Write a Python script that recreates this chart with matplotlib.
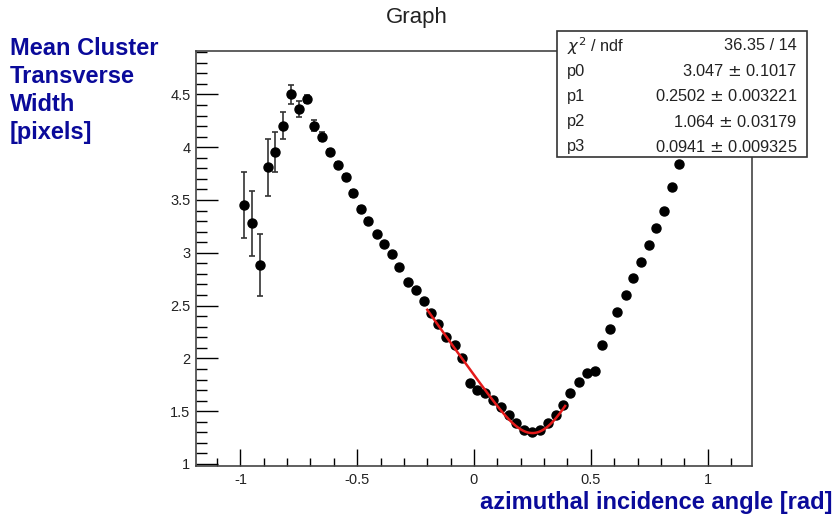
import math
import numpy as np
import matplotlib
matplotlib.use('Agg')
import matplotlib.pyplot as plt
from matplotlib.patches import Rectangle

plt.rcParams['font.family'] = ['Liberation Sans', 'DejaVu Sans']

# --- data ---
angle = [-0.983, -0.950, -0.916, -0.882, -0.852, -0.817, -0.783, -0.750, -0.716, -0.686,
         -0.652, -0.617, -0.583, -0.550, -0.519, -0.485, -0.452, -0.416, -0.384, -0.353,
         -0.319, -0.284, -0.250, -0.216, -0.183, -0.152, -0.118, -0.083, -0.050, -0.016,
         0.013, 0.047, 0.081, 0.117, 0.148, 0.180, 0.214, 0.247, 0.282, 0.316,
         0.350, 0.379, 0.413, 0.449, 0.482, 0.516, 0.548, 0.582, 0.613, 0.649,
         0.682, 0.713, 0.748, 0.779, 0.813, 0.848, 0.879]
width = [3.453, 3.279, 2.884, 3.810, 3.955, 4.204, 4.500, 4.360, 4.456, 4.204,
         4.100, 3.955, 3.830, 3.720, 3.563, 3.415, 3.300, 3.175, 3.080, 2.989,
         2.868, 2.726, 2.648, 2.541, 2.427, 2.325, 2.203, 2.127, 2.001, 1.770,
         1.700, 1.675, 1.606, 1.537, 1.464, 1.391, 1.322, 1.303, 1.322, 1.385,
         1.464, 1.559, 1.669, 1.774, 1.865, 1.884, 2.127, 2.278, 2.436, 2.603,
         2.758, 2.916, 3.071, 3.238, 3.393, 3.623, 3.838]
width_err = [0.31, 0.31, 0.29, 0.27, 0.19, 0.13, 0.09, 0.077, 0.036, 0.05,
             0.04, 0.03, 0.03, 0.03, 0.03, 0.03, 0.03, 0.02, 0.02, 0.02,
             0.02, 0.02, 0.02, 0.02, 0.02, 0.02, 0.02, 0.02, 0.02, 0.02,
             0.02, 0.02, 0.02, 0.02, 0.02, 0.02, 0.02, 0.02, 0.02, 0.02,
             0.02, 0.02, 0.02, 0.02, 0.02, 0.02, 0.02, 0.02, 0.02, 0.02,
             0.02, 0.02, 0.02, 0.02, 0.02, 0.02, 0.02]

# fit result (stats box)
p0, p1, p2, p3 = 3.047, 0.2502, 1.064, 0.0941
stat_names = ['$\\chi^{2}$ / ndf', 'p0', 'p1', 'p2', 'p3']
stat_values = ['36.35 / 14', '3.047 $\\pm$ 0.1017', '0.2502 $\\pm$ 0.003221',
               '1.064 $\\pm$ 0.03179', '0.0941 $\\pm$ 0.009325']
fit_range = (-0.2, 0.39)


def fitfunc(x):
    # p2 + p0 * <|tan(x) - tan(p1)|> smeared with gaussian of width p3
    mu = np.tan(x) - np.tan(p1)
    erf = np.vectorize(math.erf)(mu / (p3 * np.sqrt(2)))
    return p2 + p0 * (p3 * np.sqrt(2 / np.pi) * np.exp(-mu**2 / (2 * p3**2)) + mu * erf)


W, H = 835, 519
fig = plt.figure(figsize=(W / 100, H / 100), dpi=100)
ax = fig.add_axes([196 / W, 1 - 466 / H, (752 - 196) / W, (466 - 51) / H])

ax.errorbar(angle, width, yerr=width_err, fmt='o', color='black', ms=6.5,
            ecolor='#333333', elinewidth=1.2, capsize=2.5, capthick=1.2, zorder=3)

xf = np.linspace(fit_range[0], fit_range[1], 200)
ax.plot(xf, fitfunc(xf), color='#e41a1a', lw=1.8, zorder=4)

ax.set_xlim(-1.19, 1.19)
ax.set_ylim(0.981, 4.911)
ax.set_xticks([-1, -0.5, 0, 0.5, 1])
ax.set_xticklabels(['-1', '-0.5', '0', '0.5', '1'])
ax.set_xticks(np.arange(-1.1, 1.15, 0.1), minor=True)
ax.set_yticks([1, 1.5, 2, 2.5, 3, 3.5, 4, 4.5])
ax.set_yticklabels(['1', '1.5', '2', '2.5', '3', '3.5', '4', '4.5'])
ax.set_yticks(np.arange(1.0, 4.91, 0.1), minor=True)
ax.tick_params(axis='x', which='major', direction='in', length=12, width=1, labelsize=10.5, pad=5)
ax.tick_params(axis='x', which='minor', direction='in', length=6, width=1)
ax.tick_params(axis='y', which='major', direction='in', length=16, width=1, labelsize=10.5, pad=4)
ax.tick_params(axis='y', which='minor', direction='in', length=8, width=1)
for lab in ax.get_xticklabels() + ax.get_yticklabels():
    lab.set_color('#222222')
for sp in ax.spines.values():
    sp.set_color('#444444')
    sp.set_linewidth(1.2)

# title and axis labels placed like the ROOT canvas
fig.text(417 / W, 1 - 17 / H, 'Graph', ha='center', va='center', fontsize=16, color='#222222')
fig.text(10 / W, 1 - 37 / H, 'Mean Cluster\nTransverse\nWidth\n[pixels]', ha='left', va='top',
         fontsize=17, fontweight='bold', color='#0a0a9a', linespacing=1.27)
fig.text(832 / W, 1 - 502 / H, 'azimuthal incidence angle [rad]', ha='right', va='center',
         fontsize=17, fontweight='bold', color='#0a0a9a')

# stats box
bx0, bx1, by0, by1 = 557, 807, 31, 157
fig.patches.append(Rectangle((bx0 / W, 1 - by1 / H), (bx1 - bx0) / W, (by1 - by0) / H,
                             transform=fig.transFigure, facecolor='white', edgecolor='#333333',
                             lw=1.2, zorder=10))
for i, (n, v) in enumerate(zip(stat_names, stat_values)):
    yc = 1 - (46 + 25.2 * i) / H
    fig.text(567 / W, yc, n, ha='left', va='center', fontsize=11.8, color='#222222', zorder=11)
    fig.text(797 / W, yc, v, ha='right', va='center', fontsize=11.8, color='#222222', zorder=11)

fig.savefig('out.png', dpi=100)
